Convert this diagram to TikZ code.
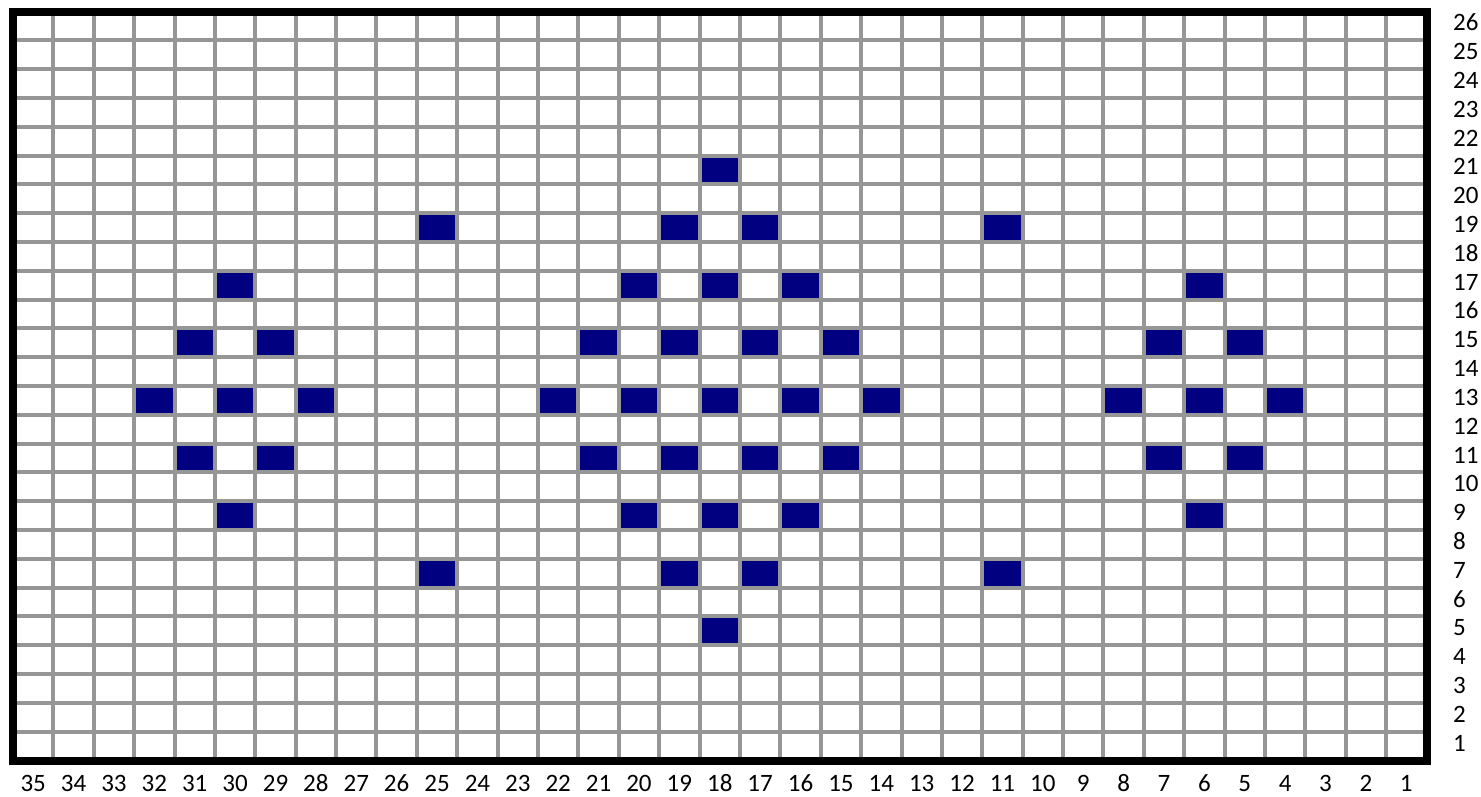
\documentclass[tikz,border=0pt]{standalone}
\usepackage{fontspec}
\setmainfont{Carlito}
\definecolor{gridgray}{RGB}{150,150,150}
\definecolor{cellblue}{RGB}{0,0,128}
\begin{document}
\begin{tikzpicture}[x=1pt,y=-1pt,
  gridline/.style={draw=gridgray,line width=4pt},
  frame/.style={draw=black,line width=8pt},
  cell/.style={fill=cellblue},
  lab/.style={inner sep=0pt,font=\fontsize{25}{28}\selectfont}]
\useasboundingbox[fill=white] (0,0) rectangle (1481,796);
\def\L{13}\def\T{11.5}\def\R{1426.5}\def\B{760.5}
\def\W{40.386}\def\H{28.808}
% blue cells (column numbered from right, row from bottom)
\foreach \c/\r in {18/21,
  25/19,19/19,17/19,11/19,
  30/17,20/17,18/17,16/17,6/17,
  31/15,29/15,21/15,19/15,17/15,15/15,7/15,5/15,
  32/13,30/13,28/13,22/13,20/13,18/13,16/13,14/13,8/13,6/13,4/13,
  31/11,29/11,21/11,19/11,17/11,15/11,7/11,5/11,
  30/9,20/9,18/9,16/9,6/9,
  25/7,19/7,17/7,11/7,
  18/5}
  \fill[cell] ({\L+(35-\c)*\W},{\T+(26-\r)*\H}) rectangle +(\W,\H);
% grid lines
\foreach \i in {1,...,34}
  \draw[gridline] ({\L+\i*\W},\T) -- ({\L+\i*\W},\B);
\foreach \j in {1,...,25}
  \draw[gridline] (\L,{\T+\j*\H}) -- (\R,{\T+\j*\H});
% frame
\draw[frame] (\L,\T) rectangle (\R,\B);
% column labels
\foreach \c in {1,...,35}
  \node[lab,anchor=base] (c\c) at ({\L+(35-\c+0.5)*\W},791.5) {\c};
% row labels
\foreach \r in {1,...,26}
  \node[lab,anchor=base west] (r\r) at (1453,{\T+(26-\r+0.5)*\H+5}) {\r};
\end{tikzpicture}
\end{document}
